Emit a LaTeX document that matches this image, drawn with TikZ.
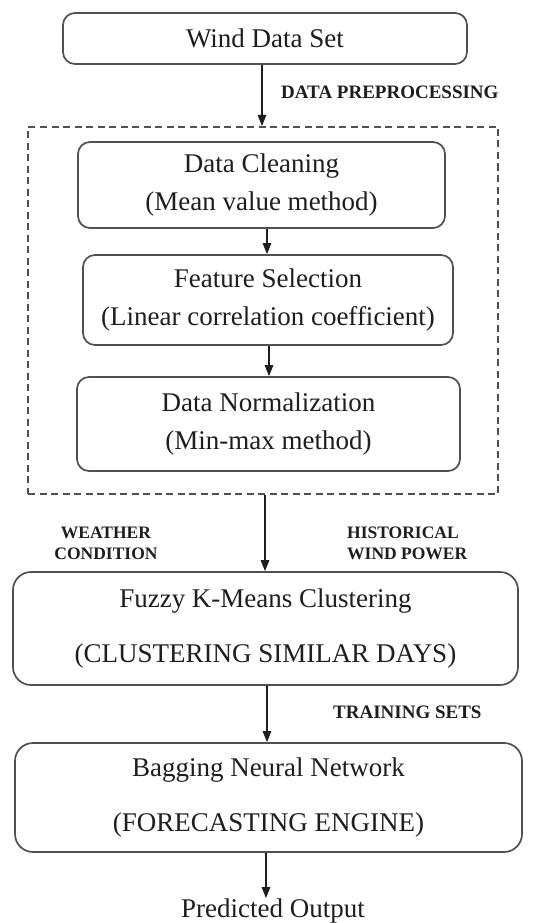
\documentclass[tikz,border=0pt]{standalone}
\usepackage{fontspec}
\setmainfont{Liberation Serif}
\usetikzlibrary{arrows.meta}
\definecolor{edge}{RGB}{80,80,80}
\definecolor{ink}{RGB}{30,30,30}
\tikzset{
  procbox/.style={draw=edge, line width=1.7pt, rounded corners=12pt, inner sep=0pt,
    align=center, text=ink, font=\fontsize{27}{38}\selectfont},
  bigbox/.style={procbox, rounded corners=18pt},
  dashbox/.style={draw=edge, line width=2pt, dash pattern=on 7pt off 4.5pt, inner sep=0pt},
  arr/.style={draw=ink, line width=1.4pt, -{Triangle[length=11pt,width=8.5pt]}},
  tag/.style={text=ink, inner sep=0pt, font=\bfseries\fontsize{19}{21}\selectfont},
  smalltag/.style={tag, font=\bfseries\fontsize{17.5}{21}\selectfont}
}
\begin{document}
\begin{tikzpicture}[x=1pt,y=-1pt]
\useasboundingbox (0,0) rectangle (549,923);
\fill[white] (0,0) rectangle (549,923);

% top source
\node[procbox, minimum width=404pt, minimum height=51pt] (wind) at (265,38.5) {Wind Data Set};

% preprocessing group
\node[dashbox, minimum width=470pt, minimum height=367pt] (pre) at (263,310.5) {};
\node[procbox, minimum width=367pt, minimum height=86pt] (clean) at (261.5,185)
  {Data Cleaning\\(Mean value method)};
\node[procbox, minimum width=370pt, minimum height=90pt] (feat) at (268,300)
  {Feature Selection\\(Linear correlation coefficient)};
\node[procbox, minimum width=383pt, minimum height=94pt] (norm) at (268.5,424)
  {Data Normalization\\(Min-max method)};

% clustering and forecasting
\node[bigbox, minimum width=505pt, minimum height=113pt] (fuzzy) at (265.5,628.5)
  {Fuzzy K-Means Clustering\\[17pt](CLUSTERING SIMILAR DAYS)};
\node[bigbox, minimum width=507pt, minimum height=109pt] (bag) at (268.5,797.5)
  {Bagging Neural Network\\[17pt](FORECASTING ENGINE)};

\node[text=ink, inner sep=0pt, font=\fontsize{27}{30}\selectfont, anchor=base] (out) at (273,917) {Predicted Output};

% connectors
\draw[arr] ([xshift=-3pt]wind.south) -- ([xshift=-3pt]wind.south |- pre.north);
\draw[arr] ([xshift=5.5pt]clean.south) -- ([xshift=5.5pt]clean.south |- feat.north);
\draw[arr] ([xshift=1pt]feat.south) -- ([xshift=1pt]feat.south |- norm.north);
\draw[arr] ([xshift=2pt]pre.south) -- ([xshift=2pt]pre.south |- fuzzy.north);
\draw[arr] ([xshift=1.5pt]fuzzy.south) -- ([xshift=1.5pt]fuzzy.south |- bag.north);
\draw[arr] ([xshift=-2.5pt]bag.south) -- ([xshift=-2.5pt]bag.south |- out.north);

% labels
\node[tag, anchor=west] (lpre) at (281,92) {DATA PREPROCESSING};
\node[smalltag, align=center] (lweather) at (106,543) {WEATHER\\CONDITION};
\node[smalltag, align=left, anchor=west] (lhist) at (347,543) {HISTORICAL\\WIND POWER};
\node[tag, anchor=west] (ltrain) at (333,712) {TRAINING SETS};
\end{tikzpicture}
\end{document}
